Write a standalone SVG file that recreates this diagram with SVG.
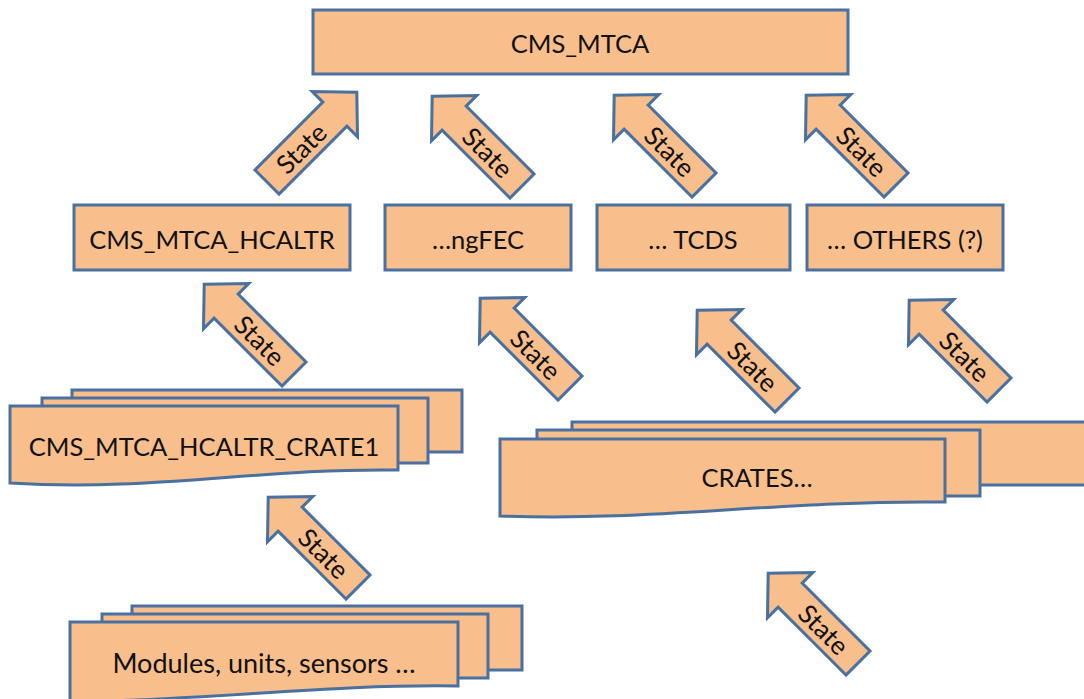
<svg xmlns="http://www.w3.org/2000/svg" width="1084" height="699" viewBox="0 0 1084 699">
<defs>
<style>
.n{fill:#F8BE8C;stroke:#4A70A0;stroke-width:3}
.t{font-family:Lato,"Open Sans","Liberation Sans",sans-serif;font-size:25.5px;fill:#111;text-anchor:middle;dominant-baseline:central}
.s{font-size:26px}
.a{fill:#F8BE8C;stroke:#4A70A0;stroke-width:3;stroke-linejoin:miter}
</style>
<polygon id="arr" points="0,-17 96,-17 96,-32 127,0 96,32 96,17 0,17"/>
</defs>
<rect width="1084" height="699" fill="#fff"/>

<g id="cms_mtca"><rect class="n" x="313" y="10" width="535" height="64"/><text class="t" x="580" y="43">CMS_MTCA</text></g>
<g id="hcaltr"><rect class="n" x="74" y="205" width="276" height="65"/><text class="t" x="212" y="239">CMS_MTCA_HCALTR</text></g>
<g id="ngfec"><rect class="n" x="385" y="205" width="186" height="65"/><text class="t" x="478" y="239">…ngFEC</text></g>
<g id="tcds"><rect class="n" x="597" y="205" width="193" height="65"/><text class="t" x="693" y="239">… TCDS</text></g>
<g id="others"><rect class="n" x="807" y="205" width="196" height="65"/><text class="t" x="905" y="239">… OTHERS (?)</text></g>

<g id="crate1">
<rect class="n" x="72" y="390" width="390" height="62"/>
<rect class="n" x="42" y="398" width="386" height="65"/>
<path class="n" d="M10,406 H398 V470 C260,468 150,492 10,483 Z"/>
<text class="t" x="204" y="446">CMS_MTCA_HCALTR_CRATE1</text>
</g>

<g id="crates">
<rect class="n" x="572" y="422" width="520" height="63"/>
<rect class="n" x="537" y="430" width="443" height="66"/>
<path class="n" d="M500,439 H945 V502 C780,500 650,522 500,516 Z"/>
<text class="t" x="757" y="477">CRATES…</text>
</g>

<g id="modules">
<rect class="n" x="132" y="606" width="390" height="64"/>
<rect class="n" x="102" y="614" width="386" height="64"/>
<path class="n" d="M70,622 H458 V686 C330,684 210,700 70,702 Z"/>
<text class="t" x="264" y="662" style="font-size:27px">Modules, units, sensors …</text>
</g>

<g id="connectors">
<g transform="translate(267,182) rotate(-45)"><use href="#arr" class="a"/><text class="t s" x="48" y="0">State</text></g>
<g transform="translate(522,186) rotate(-135)"><use href="#arr" class="a"/><text class="t s" x="48" y="0" transform="rotate(180 48 0)">State</text></g>
<g transform="translate(704,185) rotate(-135)"><use href="#arr" class="a"/><text class="t s" x="48" y="0" transform="rotate(180 48 0)">State</text></g>
<g transform="translate(896,185) rotate(-135)"><use href="#arr" class="a"/><text class="t s" x="48" y="0" transform="rotate(180 48 0)">State</text></g>
<g transform="translate(294,374) rotate(-135)"><use href="#arr" class="a"/><text class="t s" x="48" y="0" transform="rotate(180 48 0)">State</text></g>
<g transform="translate(570,388) rotate(-135)"><use href="#arr" class="a"/><text class="t s" x="48" y="0" transform="rotate(180 48 0)">State</text></g>
<g transform="translate(787,400) rotate(-135)"><use href="#arr" class="a"/><text class="t s" x="48" y="0" transform="rotate(180 48 0)">State</text></g>
<g transform="translate(999,390) rotate(-135)"><use href="#arr" class="a"/><text class="t s" x="48" y="0" transform="rotate(180 48 0)">State</text></g>
<g transform="translate(358,587) rotate(-135)"><use href="#arr" class="a"/><text class="t s" x="48" y="0" transform="rotate(180 48 0)">State</text></g>
<g transform="translate(858,663) rotate(-135)"><use href="#arr" class="a"/><text class="t s" x="48" y="0" transform="rotate(180 48 0)">State</text></g>
</g>
</svg>
